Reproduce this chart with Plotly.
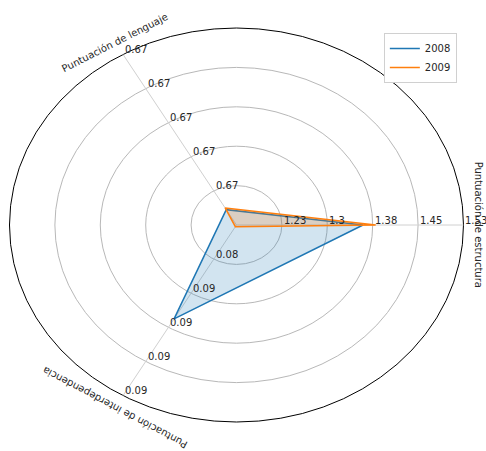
import numpy as np
import plotly.graph_objects as go

# --- data ---
categories = ["Puntuación de estructura", "Puntuación de lenguaje", "Puntuación de interdependencia"]
axis_min = [1.15, 0.665, 0.0835]     # value at the centre
axis_max = [1.525, 0.675, 0.0935]    # value at the outer ring
tick_labels = [
    ["1.23", "1.3", "1.38", "1.45", "1.53"],
    ["0.67", "0.67", "0.67", "0.67", "0.67"],
    ["0.08", "0.09", "0.09", "0.09", "0.09"],
]
years = ["2008", "2009"]
values = {
    "2008": [1.359, 0.6659, 0.0890],
    "2009": [1.380, 0.6660, 0.0836],
}
colors = {"2008": "#1f77b4", "2009": "#ff7f0e"}
fills = {"2008": "rgba(31,119,180,0.2)", "2009": "rgba(255,127,14,0.2)"}

n_levels = 5
angles = np.deg2rad([0, 120, 240])


def to_xy(vals):
    r = [(v - lo) / (hi - lo) * n_levels for v, lo, hi in zip(vals, axis_min, axis_max)]
    r = np.array(r + r[:1])
    a = np.append(angles, angles[0])
    return r * np.cos(a), r * np.sin(a)


fig = go.Figure()

# grid rings + outer spine
for k in range(1, n_levels + 1):
    fig.add_shape(type="circle", xref="x", yref="y", x0=-k, x1=k, y0=-k, y1=k,
                  line=dict(color="#000000" if k == n_levels else "#b8b8b8", width=1),
                  layer="below")
# spokes
for a in angles:
    fig.add_shape(type="line", xref="x", yref="y", x0=0, y0=0,
                  x1=n_levels * np.cos(a), y1=n_levels * np.sin(a),
                  line=dict(color="#d0d0d0", width=1), layer="below")

for yr in years:
    x, y = to_xy(values[yr])
    fig.add_trace(go.Scatter(x=x, y=y, mode="lines", fill="toself", fillcolor=fills[yr],
                             line=dict(color=colors[yr], width=1.5), showlegend=False,
                             hoverinfo="skip"))
    fig.add_trace(go.Scatter(x=[None], y=[None], mode="lines", name=yr,
                             line=dict(color=colors[yr], width=1.5)))

# tick labels along each spoke
for i, a in enumerate(angles):
    for k, lab in enumerate(tick_labels[i], start=1):
        fig.add_annotation(x=k * np.cos(a), y=k * np.sin(a), text=lab, showarrow=False,
                           xanchor="left", yanchor="middle", yshift=5,
                           font=dict(size=10, color="#262626"))

# category labels
for cat, a, rot in zip(categories, angles, [90, -27, -152]):
    fig.add_annotation(x=5.35 * np.cos(a), y=5.35 * np.sin(a), text=cat, showarrow=False,
                       textangle=rot, xanchor="center", yanchor="middle",
                       font=dict(size=10, color="#262626"))

fig.update_layout(
    width=486, height=451,
    margin=dict(l=0, r=0, t=0, b=0),
    paper_bgcolor="white", plot_bgcolor="white",
    font=dict(family="DejaVu Sans", size=10, color="#262626"),
    xaxis=dict(range=[-5.209, 5.496], visible=False, fixedrange=True),
    yaxis=dict(range=[-5.736, 5.711], visible=False, fixedrange=True),
    legend=dict(x=0.94, y=0.927, xanchor="right", yanchor="top",
                bgcolor="white", bordercolor="#d0d0d0", borderwidth=1,
                font=dict(size=10), itemwidth=30),
)

# drop the default 8px body margin so the 486x451 figure fills the window
fig.write_html("out.html", config={"displayModeBar": False},
               post_script="document.body.style.margin='0';")
